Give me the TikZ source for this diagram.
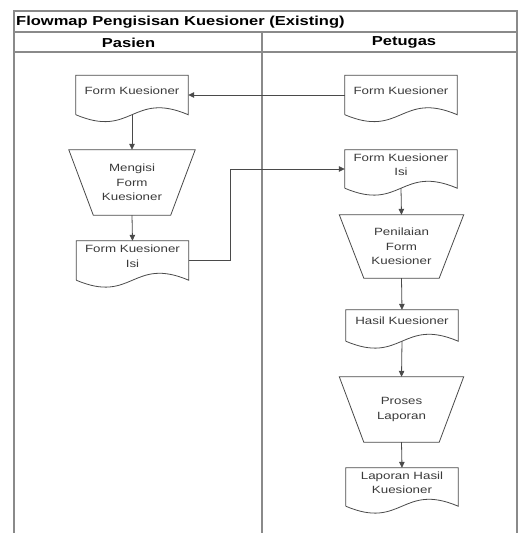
\documentclass[tikz,border=0pt]{standalone}
\usepackage{fontspec}
\setmainfont{Liberation Sans}[FakeStretch=1.27]
\usetikzlibrary{arrows.meta,calc}
\definecolor{lin}{HTML}{4A4A4A}
\definecolor{frm}{HTML}{8A8A8A}
\definecolor{txt}{HTML}{3A3A3A}
\tikzset{
  shp/.style={draw=lin, line width=0.8pt},
  frame/.style={draw=frm, line width=1.3pt},
  flow/.style={draw=lin, line width=0.8pt, -{Triangle[length=6pt,width=5.5pt]}},
  docbox/.style={rectangle, draw=none, inner sep=0pt, minimum width=112pt, minimum height=38pt,
    text depth=9pt, align=center, text=txt, font=\fontsize{10.5}{14.5}\selectfont},
  trapbox/.style={rectangle, draw=none, inner sep=0pt, minimum width=124pt, minimum height=65pt,
    align=center, text=txt, font=\fontsize{10.5}{14.5}\selectfont},
  lanehead/.style={font=\bfseries\fontsize{13}{15}\selectfont, text=black, inner sep=0pt},
}
\newcommand\docoutline[1]{%
  \draw[shp] (#1.south west) -- (#1.north west) -- (#1.north east) -- (#1.south east)
    .. controls ($(#1.south)+(0,-24)$) and ($(#1.south)+(0,24)$) .. (#1.south west);}
\newcommand\trapoutline[1]{%
  \draw[shp] (#1.north west) -- (#1.north east) -- ($(#1.south east)+(-24.5,0)$)
    -- ($(#1.south west)+(24.5,0)$) -- cycle;}
\begin{document}
\begin{tikzpicture}[x=1pt,y=-1pt]
\useasboundingbox (0,0) rectangle (519,533);
% swimlane frame
\draw[frame] (14,534) -- (14,11) -- (517,11) -- (517,534);
\draw[frame] (14,32) -- (517,32);
\draw[frame] (14,52) -- (517,52);
\draw[frame] (262,32) -- (262,534);
\node[lanehead, anchor=west] (title) at (16,22) {Flowmap Pengisisan Kuesioner (Existing)};
\node[lanehead] (pasien) at (128.5,42.5) {Pasien};
\node[lanehead] (petugas) at (404,42.5) {Petugas};
% nodes
\node[docbox, minimum height=39pt] (docA) at (132,95) {Form Kuesioner};
\node[trapbox, minimum width=126pt] (trapA) at (132,182.5) {Mengisi\\Form\\Kuesioner};
\node[docbox, minimum height=39pt] (docB) at (132.5,260.5) {Form Kuesioner\\Isi};
\node[docbox, minimum height=39pt] (docC) at (401,95) {Form Kuesioner};
\node[docbox] (docD) at (401,169) {Form Kuesioner\\Isi};
\node[trapbox, minimum height=63pt] (trapB) at (401.5,246.5) {Penilaian\\Form\\Kuesioner};
\node[docbox, minimum height=31pt] (docE) at (402,325.5) {Hasil Kuesioner};
\node[trapbox] (trapC) at (401.5,409.5) {Proses\\Laporan};
\node[docbox] (docF) at (402,487) {Laporan Hasil\\Kuesioner};
% outlines
\docoutline{docA}\docoutline{docB}\docoutline{docC}\docoutline{docD}\docoutline{docE}\docoutline{docF}
\trapoutline{trapA}\trapoutline{trapB}\trapoutline{trapC}
% connectors
\coordinate (bend) at (230,0);
\draw[flow] (docC.west) -- (docA.east);
\draw[flow] (docA.south) -- (trapA.north);
\draw[flow] (trapA.south) -- (docB.north);
\draw[flow] (docB.east) -- (docB.east -| bend) -- (docD.west -| bend) -- (docD.west);
\draw[flow] (docD.south) -- (trapB.north);
\draw[flow] (trapB.south) -- (docE.north);
\draw[flow] (docE.south) -- (trapC.north);
\draw[flow] (trapC.south) -- (docF.north);
\end{tikzpicture}
\end{document}
